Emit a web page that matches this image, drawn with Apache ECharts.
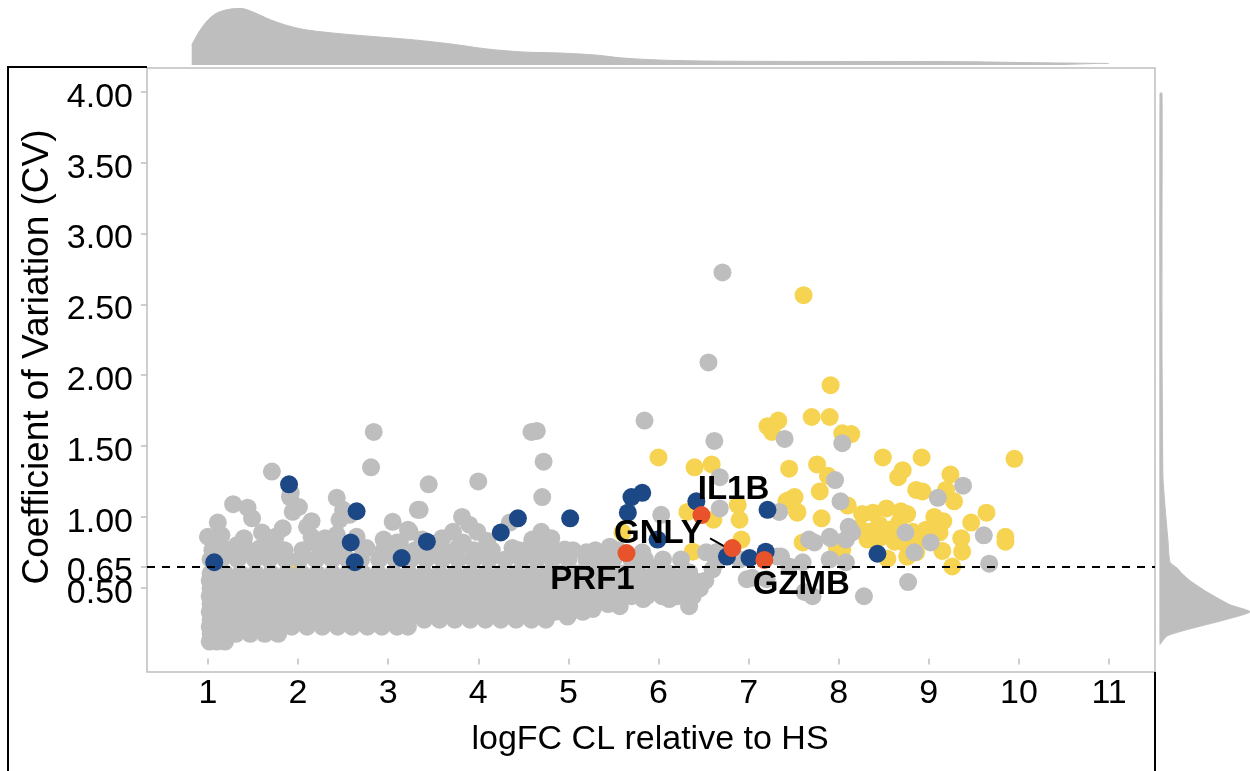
<!DOCTYPE html>
<html>
<head>
<meta charset="utf-8">
<script src="https://cdn.jsdelivr.net/npm/echarts@6/dist/echarts.min.js"></script>
<style>
html,body{margin:0;padding:0;background:#fff;}
#c{width:1250px;height:771px;}
</style>
</head>
<body>
<div id="c"></div>
<script>
// ---------- data ----------
const xTicks = [1,2,3,4,5,6,7,8,9,10,11];
const yTicks = [0.5,1,1.5,2,2.5,3,3.5,4];
const yThresholdTick = [0.65];
const cvThreshold = 0.65;

// dense grey cloud, rows of [cv, [logFC values]]
const greyCloudRows = [
 [0.12,[1.02,1.10,1.19]],
 [0.175,[1.03,1.15,1.31,1.47,1.63,1.78]],
 [0.225,[1.02,1.12,1.27,1.43,1.60,1.77,1.93,2.10,2.27,2.44,2.60,2.77,2.93,3.10,3.22]],
 [0.275,[1.03,1.19,1.36,1.53,1.70,1.87,2.04,2.21,2.38,2.55,2.72,2.89,3.06,3.23,3.40,3.57,3.74,3.91,4.08,4.25,4.42,4.59,4.75]],
 [0.33,[1.02,1.11,1.28,1.45,1.62,1.79,1.96,2.13,2.30,2.47,2.64,2.81,2.98,3.15,3.32,3.49,3.66,3.83,4.00,4.17,4.34,4.51,4.68,4.85,5.02,5.16]],
 [0.385,[1.03,1.19,1.36,1.53,1.70,1.87,2.04,2.21,2.38,2.55,2.72,2.89,3.06,3.23,3.40,3.57,3.74,3.91,4.08,4.25,4.42,4.59,4.76,4.93,5.10,5.27,5.44]],
 [0.44,[1.02,1.11,1.28,1.45,1.62,1.79,1.96,2.13,2.30,2.47,2.64,2.81,2.98,3.15,3.32,3.49,3.66,3.83,4.00,4.17,4.34,4.51,4.68,4.85,5.02,5.19,5.36,5.53,5.70,5.87,6.04,6.21,6.38]],
 [0.495,[1.03,1.19,1.36,1.53,1.70,1.87,2.04,2.21,2.38,2.55,2.72,2.89,3.06,3.23,3.40,3.57,3.74,3.91,4.08,4.25,4.42,4.59,4.76,4.93,5.10,5.27,5.44,5.61,5.78,5.95,6.12,6.29,6.46]],
 [0.55,[1.02,1.11,1.28,1.45,1.62,1.79,1.96,2.13,2.30,2.47,2.64,2.81,2.98,3.15,3.32,3.49,3.66,3.83,4.00,4.17,4.34,4.51,4.68,4.85,5.02,5.19,5.36,5.53,5.70,5.87,6.04,6.21,6.38,6.52]],
 [0.60,[1.03,1.19,1.36,1.53,1.70,1.87,2.04,2.21,2.38,2.55,2.72,2.89,3.06,3.23,3.40,3.57,3.74,3.91,4.08,4.25,4.42,4.59,4.76,4.93,5.10,5.27,5.44,5.61,5.78,5.95,6.12,6.29]],
 [0.70,[1.03,1.15,1.33,1.52,1.68,1.86,2.02,2.20,2.38,2.55,2.70,2.90,3.08,3.25,3.42,3.60,3.78,3.95,4.12,4.30,4.48,4.65,4.82,5.00,5.20,5.35,5.50,5.70,5.85,6.05,6.25]],
 [0.765,[1.05,1.22,1.45,1.70,1.85,2.05,2.25,2.50,2.95,3.10,3.30,3.60,3.95,4.15,4.45,4.85,5.05,5.30,5.55]]
];

// other grey genes [logFC, CV]
const greyGenes = [
 [6.71,2.725],[6.555,2.09],[6.62,1.536],[5.845,1.68],[7.40,1.55],[8.04,1.52],[2.84,1.60],[4.59,1.60],[4.65,1.607],
 [4.725,1.39],[2.81,1.35],[1.71,1.32],[3.45,1.23],[4.00,1.25],[4.71,1.14],[1.28,1.09],[1.11,0.96],[1.92,1.17],
 [1.44,1.065],[1.49,0.99],[1.94,1.036],[2.01,1.07],[1.83,0.92],[1.60,0.89],[1.63,0.79],[2.43,1.135],[2.50,1.05],
 [2.57,1.015],[2.46,0.98],[2.10,0.93],[2.15,0.97],[3.05,0.965],[1.055,0.84],[1.32,0.80],[3.33,1.05],[3.24,0.895],
 [3.82,1.00],[3.72,0.895],[3.99,0.895],[3.90,0.945],[4.35,0.96],[4.80,0.825],[4.66,0.755],[4.98,0.755],[3.22,0.91],
 [3.10,0.82],[3.77,0.78],[5.235,0.71],[4.99,0.297],[6.68,1.28],[6.68,1.06],[6.03,1.015],[4.70,0.895],[4.57,0.78],
 [4.68,0.77],[4.81,0.85],[6.53,0.75],[7.32,0.72],[6.64,0.68],[7.04,0.57],[7.20,0.56],[8.28,0.44],[7.62,0.47],
 [7.71,0.44],[8.77,0.54],[9.67,0.67],[7.96,1.26],[9.38,1.22],[9.10,1.135],[8.02,1.11],[7.34,1.035],[8.11,0.93],
 [7.91,0.85],[7.73,0.82],[8.74,0.89],[9.02,0.82],[9.61,0.87],[8.84,0.75],[7.90,0.70],[8.08,0.68],[7.60,0.68],
 [4.96,0.77],[5.46,0.79],[5.82,0.75],[6.01,0.65],[6.155,0.58],[6.34,0.61],[6.45,0.54],[6.60,0.63],[6.64,0.75],
 [6.90,0.70],[6.98,0.56],[7.36,0.72],[7.45,0.65],[7.67,0.84],[7.90,0.86],[8.08,0.84],[8.15,0.89],[6.34,0.37],
 [6.12,0.42],[5.83,0.42],[5.57,0.37],[5.27,0.35],[5.01,0.33],
 [1.11,0.79],[1.355,0.80],[1.65,0.79],[2.16,0.82],[2.35,0.80],[2.72,0.77],[3.13,0.82],[3.38,0.84],[3.76,0.77],
 [3.98,0.73],[4.71,0.79],[5.20,0.75],[1.58,0.78],[1.76,0.79],[1.91,1.14],[2.15,0.86],[2.43,0.875],[2.37,0.79],
 [2.76,0.78],[3.35,1.05],[3.43,0.75],[3.83,0.82],[4.38,0.78],
 [1.00,0.86],[1.15,0.87],[1.40,0.85],[1.75,0.86],[2.30,0.85],[2.65,0.86],[2.95,0.84],[3.60,0.85],[4.10,0.83],[4.60,0.84]
];

const yellowGenes = [
 [7.61,2.565],[7.91,1.93],[7.70,1.705],[7.90,1.705],[7.21,1.64],[7.33,1.68],[7.26,1.60],[8.04,1.59],[8.14,1.585],
 [6.00,1.42],[8.49,1.42],[8.92,1.42],[9.95,1.41],[6.40,1.35],[6.59,1.37],[7.45,1.34],[7.76,1.37],[7.88,1.29],
 [8.71,1.33],[8.66,1.28],[9.24,1.30],[8.86,1.19],[8.93,1.18],[9.19,1.19],[9.28,1.11],[7.79,1.18],[7.51,1.14],
 [7.42,1.11],[7.54,1.03],[8.10,1.08],[7.81,0.99],[8.26,1.02],[8.38,1.03],[8.53,1.06],[8.69,1.04],[8.76,1.02],
 [9.06,1.00],[9.16,0.97],[9.47,0.96],[9.64,1.03],[8.23,0.92],[8.34,0.895],[8.45,0.945],[8.56,0.91],[8.67,0.96],
 [8.82,0.895],[8.97,0.91],[9.12,0.89],[8.32,0.84],[8.45,0.85],[8.62,0.825],[8.75,0.805],[8.89,0.84],[9.36,0.85],
 [9.37,0.755],[9.85,0.86],[9.85,0.825],[8.04,0.77],[7.98,0.78],[8.54,0.705],[8.76,0.72],[8.86,0.75],[9.15,0.76],
 [9.26,0.65],[7.60,0.82],[6.88,1.085],[6.32,1.035],[6.61,0.98],[6.90,0.98],[7.45,1.12],[7.54,1.035],[5.60,0.89],
 [6.38,0.755],[6.92,0.84],[5.26,0.61],[1.94,0.68]
];

const blueGenes = [
 [1.90,1.23],[2.65,1.04],[2.585,0.82],[3.43,0.825],[4.25,0.89],[4.44,0.99],[5.02,0.99],[1.07,0.68],[3.15,0.71],
 [2.63,0.68],[5.70,1.14],[5.82,1.17],[6.42,1.11],[5.66,1.03],[7.21,1.05],[5.99,0.84],[6.76,0.72],[7.01,0.71],
 [7.19,0.755],[8.43,0.74]
];

const labelledNames = ['IL1B','GNLY','PRF1','GZMB'];
const labelledFC = [6.477,6.82,5.645,7.175];
const labelledCV = [1.013,0.78,0.745,0.696];
const gnlyConnector = [[6.573,0.849],[6.806,0.766]];

// marginal densities
const topDensFC = [0.82,0.9,1.0,1.1,1.25,1.37,1.5,1.7,1.9,2.1,2.5,2.9,3.3,3.7,4.1,4.5,4.9,5.3,5.6,6.0,6.5,7.0,8.0,9.0,9.5,10.0,10.5,11.0];
const topDensVal = [20,33,45,52,56,56.5,53,45,39,35,31,28,25,21,16,13,12,10,7,5,4,3.7,3.5,3.5,3.2,2.5,2,1.5];
const rightDensCV = [3.99,3.0,2.2,1.85,1.5,1.27,0.99,0.83,0.68,0.64,0.60,0.55,0.47,0.38,0.33,0.27,0.21,0.16,0.10];
const rightDensVal = [2,2,2,2.3,2.6,3,6,8,10,17,22,30,47,70,90,63,30,7,0];

// ---------- styles ----------
const FONT = "'Liberation Sans', Arial, Helvetica, sans-serif";
const GREY = '#BEBEBE', YELLOW = '#F6D350', BLUE = '#1C4885', RED = '#E9532B';
const labelOffsets = {IL1B:[32,-25], GNLY:[-74,-14], PRF1:[-34,27], GZMB:[37,25]};

const greyData = greyCloudRows.flatMap(r => r[1].map(x => [x, r[0]])).concat(greyGenes);
const redData = labelledNames.map((n,i) => ({name:n, value:[labelledFC[i], labelledCV[i]]}));

const X_MIN = 0.324, X_MAX = 11.51, Y_MIN = -0.0945, Y_MAX = 4.168;

const yLabelStyle = {show:true, margin:14, color:'#000', fontSize:34, fontFamily:FONT, hideOverlap:false,
  verticalAlign:'top', lineHeight:11, formatter:v => Number(v).toFixed(2)};

const chart = echarts.init(document.getElementById('c'), null, {renderer:'canvas'});
chart.setOption({
  animation:false,
  backgroundColor:'#fff',
  grid:[
    {left:147, right:95, top:68, bottom:99, show:true, backgroundColor:'#fff', borderColor:GREY, borderWidth:1.5, outerBoundsMode:'none'},
    {left:147, right:95, top:0, height:65, outerBoundsMode:'none'},
    {left:1160, width:90, top:68, bottom:99, outerBoundsMode:'none'}
  ],
  xAxis:[
    {type:'value', gridIndex:0, min:X_MIN, max:X_MAX,
     axisLine:{show:false}, splitLine:{show:false},
     axisTick:{show:true, customValues:xTicks, length:6, lineStyle:{color:GREY, width:1.5}},
     axisLabel:{show:true, customValues:xTicks, margin:5, color:'#000', fontSize:34, fontFamily:FONT, hideOverlap:false}},
    {type:'value', gridIndex:1, min:X_MIN, max:X_MAX, show:false},
    {type:'value', gridIndex:2, min:0, max:90, show:false}
  ],
  yAxis:[
    {type:'value', gridIndex:0, min:Y_MIN, max:Y_MAX, position:'left',
     axisLine:{show:false}, splitLine:{show:false},
     axisTick:{show:true, customValues:yTicks, length:6, lineStyle:{color:GREY, width:1.5}},
     axisLabel:Object.assign({customValues:yTicks}, yLabelStyle)},
    {type:'value', gridIndex:1, min:0, max:65, show:false},
    {type:'value', gridIndex:2, min:Y_MIN, max:Y_MAX, show:false},
    {type:'value', gridIndex:0, min:Y_MIN, max:Y_MAX, position:'left', offset:0,
     axisLine:{show:false}, splitLine:{show:false},
     axisTick:{show:true, customValues:yThresholdTick, length:6, lineStyle:{color:GREY, width:1.5}},
     axisLabel:Object.assign({customValues:yThresholdTick}, yLabelStyle)}
  ],
  graphic:[
    {type:'polyline', z:0, shape:{points:[[8,771],[8,67],[147,67]]}, style:{stroke:'#000', lineWidth:2, fill:null}},
    {type:'line', z:0, shape:{x1:1155, y1:672, x2:1155, y2:771}, style:{stroke:'#000', lineWidth:2}},
    {type:'text', x:650, y:740, z:10, style:{text:'logFC CL relative to HS', font:'34px '+FONT, fill:'#000',
      textAlign:'center', textVerticalAlign:'middle', align:'center', verticalAlign:'middle'}},
    {type:'text', x:38, y:357, rotation:Math.PI/2, z:10, style:{text:'Coefficient of Variation (CV)', font:'37px '+FONT, fill:'#000',
      textAlign:'center', textVerticalAlign:'middle', align:'center', verticalAlign:'middle'}}
  ],
  series:[
    {type:'line', xAxisIndex:1, yAxisIndex:1, data:topDensFC.map((x,i)=>[x, topDensVal[i]]),
     smooth:0.3, symbol:'none', lineStyle:{color:GREY, width:1}, areaStyle:{color:GREY, opacity:1}, silent:true},
    {type:'custom', xAxisIndex:2, yAxisIndex:2, coordinateSystem:'cartesian2d', data:[[0,0]], silent:true,
     renderItem:(params, api) => {
       const pts = [api.coord([0, rightDensCV[0]])];
       rightDensCV.forEach((y,i) => pts.push(api.coord([rightDensVal[i], y])));
       pts.push(api.coord([0, rightDensCV[rightDensCV.length-1]]));
       return {type:'polygon', shape:{points:pts, smooth:0.2}, style:{fill:GREY, stroke:GREY, lineWidth:1}};
     }},
    {type:'scatter', name:'up', data:yellowGenes, symbolSize:18, itemStyle:{color:YELLOW, opacity:1}, silent:true},
    {type:'scatter', name:'other', data:greyData, symbolSize:18, itemStyle:{color:GREY, opacity:1}, silent:true},
    {type:'scatter', name:'set', data:blueGenes, symbolSize:18, itemStyle:{color:BLUE, opacity:1}, silent:true},
    {type:'line', data:gnlyConnector, symbol:'none', lineStyle:{color:'#000', width:2}, silent:true, z:3},
    {type:'scatter', name:'labelled', data:redData, symbolSize:18, itemStyle:{color:RED, opacity:1}, silent:true, z:3,
     label:{show:true, position:'inside', formatter:'{b}', color:'#000', fontSize:33, fontWeight:'bold', fontFamily:FONT,
            align:'center', verticalAlign:'middle'},
     labelLayout:(p) => {
       const o = labelOffsets[labelledNames[p.dataIndex]];
       return {dx:o[0], dy:o[1], hideOverlap:false, moveOverlap:null};
     },
     markLine:{silent:true, symbol:['none','none'], label:{show:false},
       lineStyle:{color:'#000', type:[8,7], width:2}, data:[{yAxis:cvThreshold}]}}
  ]
});
</script>
</body>
</html>
